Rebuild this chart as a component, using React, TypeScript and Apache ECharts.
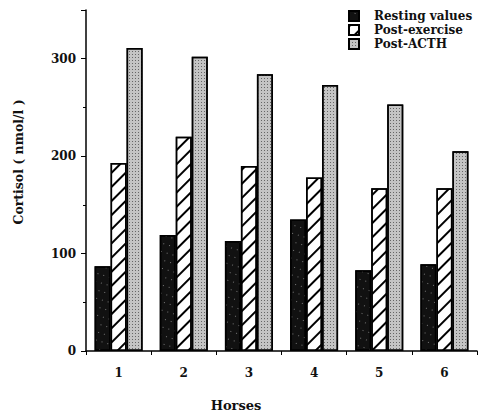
import React, { useEffect, useRef } from "react";
import * as echarts from "echarts";

const categories = ["1", "2", "3", "4", "5", "6"];
const restingValues = [87, 119, 113, 135, 83, 89];
const postExercise = [193, 220, 190, 178, 167, 167];
const postACTH = [311, 302, 284, 273, 253, 205];
const yTicks = [0, 100, 200, 300];

const FONT = "'DejaVu Serif', 'Liberation Serif', serif";

export default function App() {
  const ref = useRef<HTMLDivElement>(null);
  useEffect(() => {
    if (!ref.current) return;
    const chart = echarts.init(ref.current, undefined, { renderer: "svg" });
    const border = { borderColor: "#000", borderWidth: 1.5 };
    chart.setOption({
      animation: false,
      backgroundColor: "#fff",
      grid: { left: 86, right: 1, top: 10, bottom: 66 },
      legend: {
        orient: "vertical",
        left: 343,
        top: 5,
        itemWidth: 10,
        itemHeight: 10,
        itemGap: 2,
        icon: "rect",
        textStyle: { fontFamily: FONT, fontSize: 12, fontWeight: "bold", color: "#111", padding: [0, 0, 0, 10] },
        data: ["Resting values", "Post-exercise", "Post-ACTH"],
      },
      xAxis: {
        type: "category",
        data: categories,
        axisLine: { lineStyle: { color: "#000", width: 1.5 } },
        axisTick: { show: true, length: 4, lineStyle: { color: "#000" } },
        axisLabel: { fontFamily: FONT, fontSize: 12, fontWeight: "bold", color: "#111", margin: 16 },
      },
      yAxis: {
        type: "value",
        min: 0,
        max: 350,
        interval: 100,
        splitLine: { show: false },
        axisLine: { show: true, lineStyle: { color: "#000", width: 1.5 } },
        axisTick: { show: true, length: 5, lineStyle: { color: "#000" } },
        minorTick: { show: true, splitNumber: 2, length: 3, lineStyle: { color: "#000" } },
        axisLabel: {
          fontFamily: FONT,
          fontSize: 12,
          fontWeight: "bold",
          color: "#111",
          margin: 10,
          formatter: (v: number) => (yTicks.includes(v) ? String(v) : ""),
        },
      },
      graphic: [
        {
          type: "text",
          x: 18,
          y: 162,
          rotation: Math.PI / 2,
          style: {
            text: "Cortisol ( nmol/l )",
            font: `bold 12.5px ${FONT}`,
            fill: "#111",
            align: "center",
            verticalAlign: "middle",
          },
        },
        {
          type: "text",
          x: 236,
          y: 405,
          style: {
            text: "Horses",
            font: `bold 13px ${FONT}`,
            fill: "#111",
            align: "center",
            verticalAlign: "middle",
          },
        },
      ],
      series: [
        {
          name: "Resting values",
          type: "bar",
          data: restingValues,
          barWidth: 16,
          barGap: "0%",
          itemStyle: {
            color: "#111",
            ...border,
            decal: {
              symbol: "rect",
              symbolSize: 1,
              color: "#777",
              dashArrayX: [1, 5],
              dashArrayY: [1, 7],
              rotation: 0.3,
            },
          },
        },
        {
          name: "Post-exercise",
          type: "bar",
          data: postExercise,
          barWidth: 16,
          barGap: "0%",
          itemStyle: {
            color: "#fff",
            ...border,
            decal: {
              symbol: "rect",
              symbolSize: 1,
              color: "#000",
              dashArrayX: [1, 0],
              dashArrayY: [1.5, 8],
              rotation: -Math.PI / 4,
            },
          },
        },
        {
          name: "Post-ACTH",
          type: "bar",
          data: postACTH,
          barWidth: 16,
          barGap: "0%",
          itemStyle: {
            color: "#c4c4c4",
            ...border,
            decal: {
              symbol: "rect",
              symbolSize: 1,
              color: "#666",
              dashArrayX: [1, 2],
              dashArrayY: [1, 2],
              rotation: 0,
            },
          },
        },
      ],
    });
    return () => chart.dispose();
  }, []);
  return <div ref={ref} style={{ width: 478, height: 417, position: "absolute", left: 0, top: 0 }} />;
}
